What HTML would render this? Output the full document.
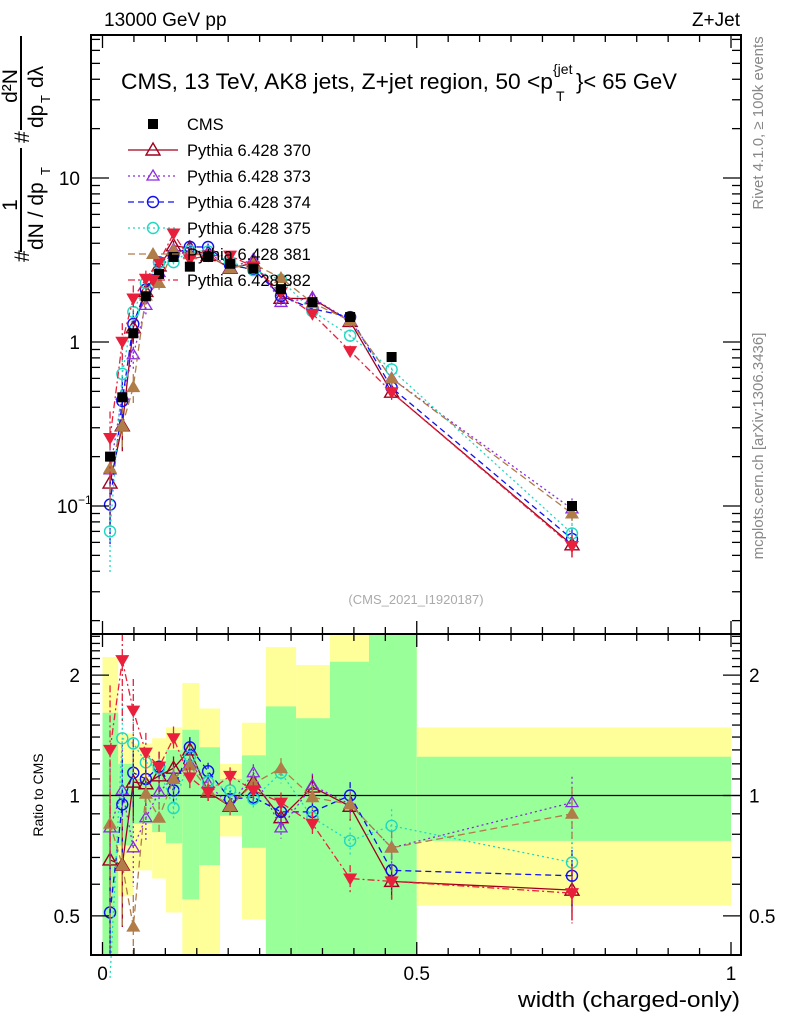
<!DOCTYPE html>
<html><head><meta charset="utf-8">
<style>
html,body{margin:0;padding:0;background:#fff;}
svg{display:block;font-family:"Liberation Sans",Arial,sans-serif;}
</style></head>
<body>
<svg id="chart" width="786" height="1024" viewBox="0 0 786 1024" xmlns="http://www.w3.org/2000/svg">
<g id="bands"></g>
<g id="marks"></g>
<g id="axes"></g>
<text x="104" y="26" font-size="19">13000 GeV pp</text>
<text x="740" y="26" font-size="19" text-anchor="end">Z+Jet</text>
<g>
<text x="121" y="89" font-size="22" textLength="432" lengthAdjust="spacingAndGlyphs">CMS, 13 TeV, AK8 jets, Z+jet region, 50 &lt;p</text>
<text x="553" y="74" font-size="14">{jet</text>
<text x="556" y="101" font-size="14">T</text>
<text x="576" y="89" font-size="22">}&lt; 65 GeV</text>
</g>
<text transform="translate(763,123) rotate(-90)" font-size="15" fill="#888" text-anchor="middle">Rivet 4.1.0, ≥ 100k events</text>
<text transform="translate(763,446) rotate(-90)" font-size="15" fill="#888" text-anchor="middle">mcplots.cern.ch [arXiv:1306.3436]</text>
<text x="416" y="604" font-size="13" fill="#aaa" text-anchor="middle">(CMS_2021_I1920187)</text>
<g font-size="21">
<text transform="translate(29,262) rotate(-90)">#</text>
<text transform="translate(29,143) rotate(-90)">#</text>
<text transform="translate(17,205) rotate(-90)" text-anchor="middle">1</text>
<line x1="21" y1="252" x2="21" y2="148" stroke="#000" stroke-width="2"/>
<text transform="translate(43,250) rotate(-90)">dN / dp</text>
<text transform="translate(50,175) rotate(-90)" font-size="13">T</text>
<text transform="translate(17,86) rotate(-90)" text-anchor="middle">d²N</text>
<line x1="21" y1="130" x2="21" y2="36" stroke="#000" stroke-width="2"/>
<text transform="translate(43,128) rotate(-90)">dp</text>
<text transform="translate(50,103) rotate(-90)" font-size="13">T</text>
<text transform="translate(43,88) rotate(-90)">dλ</text>
</g>
<text transform="translate(43,795) rotate(-90)" font-size="14" text-anchor="middle">Ratio to CMS</text>
<text x="518" y="1007" font-size="22" textLength="222" lengthAdjust="spacingAndGlyphs">width (charged-only)</text>
<g id="legend"></g>
</svg>
<script>
// ---- data ----
const xVals = [0.012,0.0315,0.049,0.069,0.09,0.113,0.139,0.168,0.203,0.24,0.284,0.334,0.394,0.46,0.747];
const cmsVals = [0.2,0.46,1.13,1.9,2.6,3.3,2.88,3.3,3.0,2.8,2.1,1.75,1.42,0.81,0.1];
const cmsErr = [0.03,0.04,0.04,0.04,0.04,0.04,0.04,0.04,0.04,0.04,0.04,0.04,0.04,0.04,0.05];
const mcErr = [0.45,0.3,0.2,0.12,0.09,0.07,0.06,0.05,0.05,0.05,0.06,0.07,0.08,0.1,0.16];
const ratio370 = [0.69,0.67,1.08,1.07,1.12,1.17,1.3,1.02,0.94,1.08,0.88,1.05,0.94,0.61,0.58];
const ratio373 = [0.83,1.03,0.74,0.88,1.02,1.11,1.2,1.07,0.94,1.14,0.83,1.06,0.95,0.74,0.96];
const ratio374 = [0.51,0.95,1.14,1.10,1.18,1.03,1.32,1.15,0.98,0.99,0.91,0.91,1.0,0.65,0.63];
const ratio375 = [0.35,1.39,1.35,1.21,1.17,0.93,1.25,1.08,1.03,0.98,1.14,0.88,0.77,0.84,0.68];
const ratio381 = [0.85,0.67,0.47,1.01,0.88,1.10,1.19,1.03,0.94,1.07,1.17,0.99,0.95,0.74,0.9];
const ratio382 = [1.30,2.18,1.63,1.28,1.18,1.39,1.11,1.02,1.12,1.03,0.96,0.85,0.62,0.61,0.57];
const bandEdges = [0,0.025,0.049,0.079,0.101,0.127,0.154,0.187,0.222,0.26,0.308,0.362,0.424,0.5,1.0];
const yellowHi = [2.22,1.43,1.35,1.39,1.48,1.91,1.65,1.20,1.52,2.35,2.12,2.6,2.6,1.48];
const yellowLo = [0.3,0.56,0.65,0.62,0.51,0.3,0.3,0.79,0.49,0.3,0.44,0.3,0.3,0.53];
const greenHi = [1.61,1.2,1.1,1.22,1.3,1.46,1.32,1.10,1.26,1.67,1.56,2.16,2.6,1.25];
const greenLo = [0.3,0.75,0.85,0.81,0.76,0.55,0.67,0.89,0.74,0.3,0.3,0.3,0.3,0.77];
const xTicks = [0,0.5,1];
const xTickLabels = ["0","0.5","1"];
const yTicks = [0.1,1,10];
const yTickLabels = ["10","1","10"];
const rTicks = [0.5,1,2];
const rTickLabels = ["0.5","1","2"];

// ---- axes ----
const L=91,R=741,T=35,MB=634,RB=955;
const X = v => 102.5 + v*628.5;
const Y = v => 342 - 164*Math.log10(v);
const RY = v => 795.5 - 400*Math.log10(v);
const NS="http://www.w3.org/2000/svg";
function mk(tag, attrs, parent){const e=document.createElementNS(NS,tag);for(const k in attrs)e.setAttribute(k,attrs[k]);parent.appendChild(e);return e;}
const bands=document.getElementById('bands'), marks=document.getElementById('marks'), axes=document.getElementById('axes'), legend=document.getElementById('legend');
const clipR = v => Math.min(RB, Math.max(634, v));

// bands
for(let i=0;i<bandEdges.length-1;i++){
  const x1=X(bandEdges[i]), x2=X(bandEdges[i+1]);
  const yb=mk('rect',{x:x1,y:clipR(RY(yellowHi[i])),width:x2-x1,height:clipR(RY(yellowLo[i]))-clipR(RY(yellowHi[i])),fill:'#ffff99'},bands);
  
  
  const gb=mk('rect',{x:x1,y:clipR(RY(greenHi[i])),width:x2-x1,height:clipR(RY(greenLo[i]))-clipR(RY(greenHi[i])),fill:'#99ff99'},bands);
  
  
}
const oneLine=mk('line',{x1:L,x2:R,y1:RY(1),y2:RY(1),stroke:'#000','stroke-width':1.3},bands);



// series
const series=[
 {name:'370',r:ratio370,color:'#a0001e',dash:'',mk:'tri-open'},
 {name:'373',r:ratio373,color:'#8a2be2',dash:'2,3',mk:'tri-open-s'},
 {name:'374',r:ratio374,color:'#1010ee',dash:'6,4',mk:'circ'},
 {name:'375',r:ratio375,color:'#20d8c0',dash:'2,3',mk:'circ'},
 {name:'381',r:ratio381,color:'#b07c48',dash:'7,4',mk:'tri-fill'},
 {name:'382',r:ratio382,color:'#e8203c',dash:'7,3,2,3',mk:'tri-down'}
];
function marker(g,type,x,y,c){
  if(type==='tri-open') mk('path',{d:`M${x} ${y-7}L${x+7} ${y+5}L${x-7} ${y+5}Z`,fill:'none',stroke:c,'stroke-width':1.4},g);
  else if(type==='tri-open-s') mk('path',{d:`M${x} ${y-6}L${x+6} ${y+4}L${x-6} ${y+4}Z`,fill:'none',stroke:c,'stroke-width':1.3},g);
  else if(type==='circ') mk('circle',{cx:x,cy:y,r:5.5,fill:'none',stroke:c,'stroke-width':1.4},g);
  else if(type==='tri-fill') mk('path',{d:`M${x} ${y-7}L${x+7} ${y+5}L${x-7} ${y+5}Z`,fill:c},g);
  else if(type==='tri-down') mk('path',{d:`M${x} ${y+7}L${x+7} ${y-5}L${x-7} ${y-5}Z`,fill:c},g);
  else if(type==='sq') mk('rect',{x:x-5,y:y-5,width:10,height:10,fill:c},g);
}
series.forEach(s=>{
  const g=mk('g',{},marks);
  
  
  const mainVals=s.r.map((r,i)=>r*cmsVals[i]);
  const ptsM=xVals.map((x,i)=>X(x)+','+Y(mainVals[i])).join(' ');
  const ptsR=xVals.map((x,i)=>X(x)+','+RY(s.r[i])).join(' ');
  mk('polyline',{points:ptsM,fill:'none',stroke:s.color,'stroke-width':1.3,'stroke-dasharray':s.dash},g);
  mk('polyline',{points:ptsR,fill:'none',stroke:s.color,'stroke-width':1.3,'stroke-dasharray':s.dash},g);
  xVals.forEach((x,i)=>{
    const e=mcErr[i];
    mk('line',{x1:X(x),x2:X(x),y1:Y(mainVals[i]*(1+e)),y2:Y(Math.max(mainVals[i]*(1-e),0.017)),stroke:s.color,'stroke-width':1.3,'stroke-dasharray':s.dash},g);
    mk('line',{x1:X(x),x2:X(x),y1:clipR(RY(s.r[i]*(1+e))),y2:clipR(RY(Math.max(s.r[i]*(1-e),0.3))),stroke:s.color,'stroke-width':1.3,'stroke-dasharray':s.dash},g);
    marker(g,s.mk,X(x),Y(mainVals[i]),s.color);
    const ry=RY(s.r[i]); if(ry>634&&ry<RB) marker(g,s.mk,X(x),ry,s.color);
  });
});
// CMS
const cg=mk('g',{},marks);


xVals.forEach((x,i)=>{
  mk('line',{x1:X(x),x2:X(x),y1:Y(cmsVals[i]*(1+cmsErr[i])),y2:Y(cmsVals[i]*(1-cmsErr[i])),stroke:'#000','stroke-width':1.3},cg);
  marker(cg,'sq',X(x),Y(cmsVals[i]),'#000');
});

// frames
mk('rect',{x:L,y:T,width:R-L,height:MB-T,fill:'none',stroke:'#000','stroke-width':2},axes);
mk('rect',{x:L,y:MB,width:R-L,height:RB-MB,fill:'none',stroke:'#000','stroke-width':2},axes);
// x ticks
for(let k=0;k<=20;k++){
  const v=k*0.05, x=X(v), len=(k%10===0)?13:7;
  [[T,1],[MB,-1],[MB,1],[RB,-1]].forEach(([y0,d])=>mk('line',{x1:x,x2:x,y1:y0,y2:y0+d*len,stroke:'#000','stroke-width':1.3},axes));
}
xTicks.forEach((v,i)=>{const t=mk('text',{x:X(v),y:980,'font-size':19,'text-anchor':'middle'},axes);t.textContent=xTickLabels[i];
 
 });
// main y ticks
for(let d=-2;d<=1;d++){for(let m=1;m<=9;m++){const v=m*Math.pow(10,d),y=Y(v);if(y<T||y>MB)continue;const len=m===1?18:9;
 mk('line',{x1:L,x2:L+len,y1:y,y2:y,stroke:'#000','stroke-width':1.3},axes);
 mk('line',{x1:R,x2:R-len,y1:y,y2:y,stroke:'#000','stroke-width':1.3},axes);}}
yTicks.forEach((v,i)=>{const t=mk('text',{x:v===0.1?78:80,y:Y(v)+7,'font-size':19,'text-anchor':'end'},axes);t.textContent=yTickLabels[i];
 
 
 if(v===0.1){const s=mk('text',{x:78,y:Y(v)-2,'font-size':12},axes);s.textContent='−1';}});
// ratio ticks
for(let m=3;m<=25;m++){const v=m/10,y=RY(v);if(y<634||y>RB)continue;const len=(v===0.5||v===1||v===2)?18:9;
 mk('line',{x1:L,x2:L+len,y1:y,y2:y,stroke:'#000','stroke-width':1.3},axes);
 mk('line',{x1:R,x2:R-len,y1:y,y2:y,stroke:'#000','stroke-width':1.3},axes);}
rTicks.forEach((v,i)=>{
 const t=mk('text',{x:80,y:RY(v)+7,'font-size':19,'text-anchor':'end'},axes);t.textContent=rTickLabels[i];
 
 
 const t2=mk('text',{x:749,y:RY(v)+7,'font-size':19},axes);t2.textContent=rTickLabels[i];
 
 });

// legend
const legItems=[{label:'CMS',mk:'sq',color:'#000',dash:''}].concat(series.map(s=>({label:'Pythia 6.428 '+s.name,mk:s.mk,color:s.color,dash:s.dash})));
legItems.forEach((it,i)=>{
  const y=124+i*26;
  const g=mk('g',{},legend);
  
  
  if(i>0) mk('line',{x1:128,x2:178,y1:y,y2:y,stroke:it.color,'stroke-width':1.3,'stroke-dasharray':it.dash},g);
  marker(g,it.mk,153,y,it.color);
  const t=mk('text',{x:187,y:y+6,'font-size':16.5},g);t.textContent=it.label;
});
</script>
</body></html>
